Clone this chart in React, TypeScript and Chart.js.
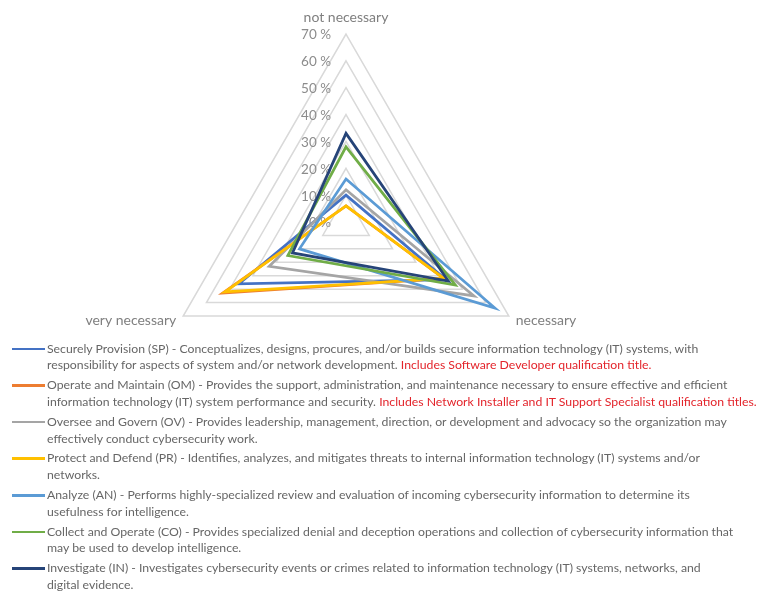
import React, { useEffect, useRef } from "react";
import { Chart, registerables } from "chart.js";

Chart.register(...registerables);

const axisLabels = ["not necessary", "necessary", "very necessary"];
const tickValues = [0, 10, 20, 30, 40, 50, 60, 70];

const seriesNames = [
  "Securely Provision (SP)",
  "Operate and Maintain (OM)",
  "Oversee and Govern (OV)",
  "Protect and Defend (PR)",
  "Analyze (AN)",
  "Collect and Operate (CO)",
  "Investigate (IN)",
];
const seriesColors = ["#4472C4", "#ED7D31", "#A5A5A5", "#FFC000", "#5B9BD5", "#70AD47", "#264478"];

const spValues = [10, 43, 46];
const omValues = [6, 42, 53];
const ovValues = [12, 55, 33];
const prValues = [6, 42, 52];
const anValues = [16, 64, 20];
const coValues = [28, 47, 25];
const inValues = [33, 44, 23];

const seriesValues = [spValues, omValues, ovValues, prValues, anValues, coValues, inValues];

const legendLines: { line1: string; line2: string; red?: string }[] = [
  {
    line1: "Securely Provision (SP) - Conceptualizes, designs, procures, and/or builds secure information technology (IT) systems, with",
    line2: "responsibility for aspects of system and/or network development. ",
    red: "Includes Software Developer qualification title.",
  },
  {
    line1: "Operate and Maintain (OM) - Provides the support, administration, and maintenance necessary to ensure effective and efficient",
    line2: "information technology (IT) system performance and security. ",
    red: "Includes Network Installer and IT Support Specialist qualification titles.",
  },
  {
    line1: "Oversee and Govern (OV) - Provides leadership, management, direction, or development and advocacy so the organization may",
    line2: "effectively conduct cybersecurity work.",
  },
  {
    line1: "Protect and Defend (PR) - Identifies, analyzes, and mitigates threats to internal information technology (IT) systems and/or",
    line2: "networks.",
  },
  {
    line1: "Analyze (AN) - Performs highly-specialized review and evaluation of incoming cybersecurity information to determine its",
    line2: "usefulness for intelligence.",
  },
  {
    line1: "Collect and Operate (CO) - Provides specialized denial and deception operations and collection of cybersecurity information that",
    line2: "may be used to develop intelligence.",
  },
  {
    line1: "Investigate (IN) - Investigates cybersecurity events or crimes related to information technology (IT) systems, networks, and",
    line2: "digital evidence.",
  },
];

const FONT = "Lato, 'Open Sans', sans-serif";

const labelPlugin = {
  id: "excelLabels",
  beforeDatasetsDraw(chart: any) {
    const scale = chart.scales.r;
    const ctx = chart.ctx;
    ctx.save();
    ctx.font = `13.5px ${FONT}`;
    ctx.fillStyle = "#8c8c8c";
    ctx.textAlign = "right";
    ctx.textBaseline = "middle";
    tickValues.forEach((v) => {
      const d = scale.getDistanceFromCenterForValue(v);
      ctx.fillText(`${v} %`, scale.xCenter - 15, scale.yCenter - d + 1);
    });
    ctx.fillStyle = "#7f7f7f";
    ctx.font = `14px ${FONT}`;
    const p0 = scale.getPointPosition(0, scale.drawingArea + 10);
    ctx.textAlign = "center";
    ctx.textBaseline = "bottom";
    ctx.fillText(axisLabels[0], p0.x, p0.y);
    const p1 = scale.getPointPosition(1, scale.drawingArea + 8);
    ctx.textAlign = "left";
    ctx.textBaseline = "middle";
    ctx.fillText(axisLabels[1], p1.x, p1.y);
    const p2 = scale.getPointPosition(2, scale.drawingArea + 8);
    ctx.textAlign = "right";
    ctx.fillText(axisLabels[2], p2.x, p2.y);
    ctx.restore();
  },
};

export default function App() {
  const ref = useRef<HTMLCanvasElement | null>(null);

  useEffect(() => {
    if (!ref.current) return;
    const chart = new Chart(ref.current, {
      type: "radar",
      data: {
        labels: axisLabels,
        datasets: seriesNames.map((name, i) => ({
          label: name,
          data: seriesValues[i],
          borderColor: seriesColors[i],
          backgroundColor: "transparent",
          borderWidth: 2.75,
          pointRadius: 0,
          pointHoverRadius: 0,
          fill: false,
          tension: 0,
          order: -i,
        })),
      },
      options: {
        responsive: false,
        animation: false,
        devicePixelRatio: 1,
        layout: { padding: { left: 150, top: 26, right: 223, bottom: 8 } },
        plugins: { legend: { display: false }, tooltip: { enabled: false } },
        elements: { line: { borderJoinStyle: "miter" } },
        scales: {
          r: {
            min: 0,
            max: 70,
            ticks: { display: false, stepSize: 10 },
            pointLabels: { display: false },
            angleLines: { display: false },
            grid: { color: "#d9d9d9", lineWidth: 1.5 },
          },
        },
      },
      plugins: [labelPlugin],
    });
    return () => chart.destroy();
  }, []);

  return (
    <div style={{ position: "relative", width: 749, height: 584, fontFamily: FONT }}>
      <canvas ref={ref} width={749} height={410} style={{ position: "absolute", left: 0, top: 0 }} />
      {legendLines.map((entry, i) => (
        <div key={i} style={{ position: "absolute", left: 0, top: 332.6 + i * 36.6, width: 749, height: 34 }}>
          <div
            style={{
              position: "absolute",
              left: 4,
              top: 7.1,
              width: 33,
              height: 2.5,
              background: seriesColors[i],
            }}
          />
          <div
            style={{
              position: "absolute",
              left: 39,
              top: 0,
              fontSize: 12.25,
              lineHeight: "16.7px",
              color: "#666666",
              whiteSpace: "nowrap",
            }}
          >
            <div>{entry.line1}</div>
            <div>
              {entry.line2}
              {entry.red ? <span style={{ color: "#e3242b" }}>{entry.red}</span> : null}
            </div>
          </div>
        </div>
      ))}
    </div>
  );
}
